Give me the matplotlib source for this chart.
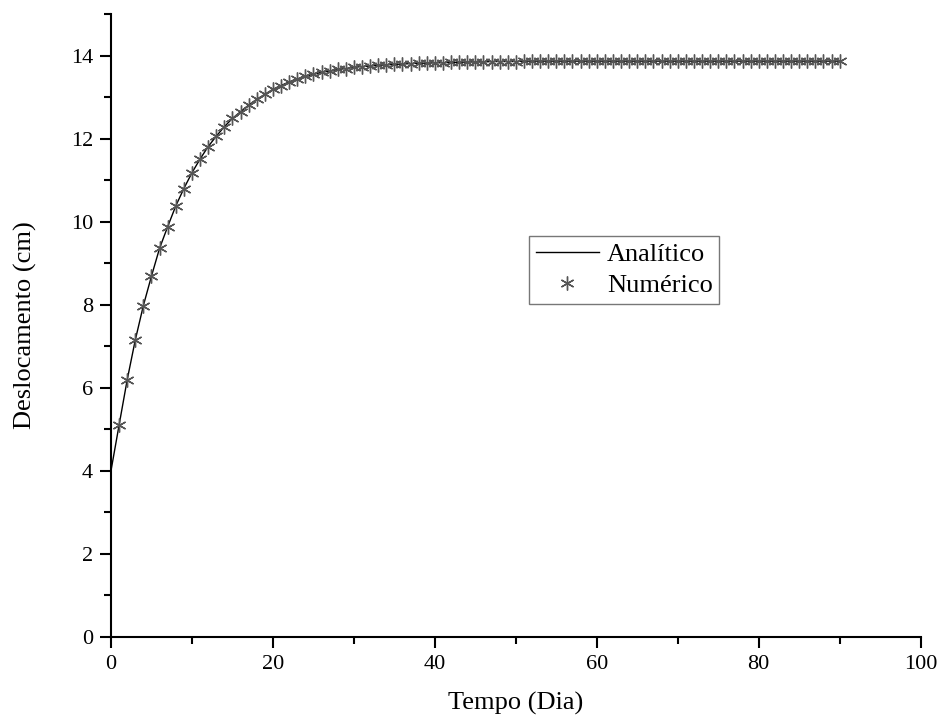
import matplotlib.pyplot as plt
from matplotlib.ticker import MultipleLocator

# --- dados ---
tempo_dia = list(range(0, 91))
analitico = [
    4.00, 5.10, 6.19, 7.15, 7.98, 8.69, 9.36, 9.88, 10.38, 10.80,
    11.18, 11.51, 11.81, 12.06, 12.29, 12.49, 12.65, 12.81, 12.95, 13.07,
    13.19, 13.28, 13.37, 13.44, 13.50, 13.55, 13.60, 13.63, 13.67, 13.69,
    13.72, 13.74, 13.75, 13.77, 13.78, 13.79, 13.80, 13.81, 13.82, 13.82,
    13.83, 13.83, 13.84, 13.84, 13.85, 13.85, 13.85, 13.86, 13.86, 13.86,
    13.86, 13.87, 13.87, 13.87, 13.87, 13.87, 13.87, 13.87, 13.87, 13.87,
    13.87, 13.87, 13.87, 13.87, 13.87, 13.87, 13.87, 13.87, 13.87, 13.87,
    13.87, 13.87, 13.87, 13.87, 13.87, 13.87, 13.87, 13.87, 13.87, 13.87,
    13.87, 13.87, 13.87, 13.87, 13.87, 13.87, 13.87, 13.87, 13.87, 13.87,
    13.87,
]
tempo_num = tempo_dia[1:]
numerico = analitico[1:]

FONT = 'Liberation Serif'
plt.rcParams['font.family'] = FONT

fig = plt.figure(figsize=(9.43, 7.18), dpi=100)
ax = fig.add_axes([0.1177, 0.1132, 0.8586, 0.8670])

ax.plot(tempo_dia, analitico, color='black', linewidth=1.0, label='Analítico')
ax.plot(tempo_num, numerico, linestyle='none', marker=(6, 2, 0),
        markersize=10, markeredgewidth=1.0, color='#555555', label='Numérico')

ax.set_xlim(0, 100)
ax.set_ylim(0, 15)
ax.xaxis.set_major_locator(MultipleLocator(20))
ax.xaxis.set_minor_locator(MultipleLocator(10))
ax.yaxis.set_major_locator(MultipleLocator(2))
ax.yaxis.set_minor_locator(MultipleLocator(1))
ax.set_yticks(range(0, 15, 2))

ax.spines['top'].set_visible(False)
ax.spines['right'].set_visible(False)
for s in ('left', 'bottom'):
    ax.spines[s].set_linewidth(1.5)

ax.tick_params(which='major', direction='out', length=8, width=1.5, labelsize=16, pad=5)
ax.tick_params(which='minor', direction='out', length=5, width=1.5)

ax.set_xlabel('Tempo (Dia)', fontsize=19, labelpad=13)
ax.set_ylabel('Deslocamento (cm)', fontsize=19, labelpad=24)

leg = ax.legend(loc='upper left', bbox_to_anchor=(529 / 943, 1 - 236 / 718),
                bbox_transform=fig.transFigure, fontsize=19, frameon=True,
                fancybox=False, edgecolor='#555555', handlelength=2.4,
                borderpad=0.25, labelspacing=0.3, handletextpad=0.3,
                borderaxespad=0)
leg.get_frame().set_linewidth(1.0)

plt.savefig('out.png', dpi=100, facecolor='white')
